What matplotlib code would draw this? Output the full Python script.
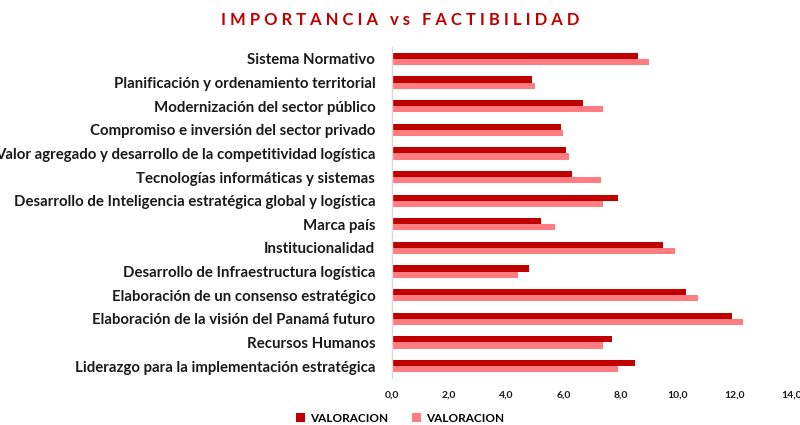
import numpy as np
import matplotlib
matplotlib.use("Agg")
import matplotlib.pyplot as plt

plt.rcParams["font.family"] = ["Lato", "DejaVu Sans"]

# Datos
categorias = [
    "Sistema Normativo",
    "Planificación y ordenamiento territorial",
    "Modernización del sector público",
    "Compromiso e inversión del sector privado",
    "Valor agregado y desarrollo de la competitividad logística",
    "Tecnologías informáticas y sistemas",
    "Desarrollo de Inteligencia estratégica global y logística",
    "Marca país",
    "Institucionalidad",
    "Desarrollo de Infraestructura logística",
    "Elaboración de un consenso estratégico",
    "Elaboración de la visión del Panamá futuro",
    "Recursos Humanos",
    "Liderazgo para la implementación estratégica",
]
importancia = [8.6, 4.9, 6.7, 5.9, 6.1, 6.3, 7.9, 5.2, 9.5, 4.8, 10.3, 11.9, 7.7, 8.5]
factibilidad = [9.0, 5.0, 7.4, 6.0, 6.2, 7.3, 7.4, 5.7, 9.9, 4.4, 10.7, 12.3, 7.4, 7.9]
ticks_x = [0, 2, 4, 6, 8, 10, 12, 14]

rojo = "#C00000"
rosa = "#FF7C80"

fig = plt.figure(figsize=(8, 4.25), dpi=100)
ax = fig.add_axes([0.49, 0.111, 0.50, 0.778])

y = np.arange(len(categorias))
h = 0.26
ax.barh(y - h / 2, importancia, height=h, color=rojo, label="VALORACION")
ax.barh(y + h / 2, factibilidad, height=h, color=rosa, label="VALORACION")

ax.set_ylim(len(categorias) - 0.5, -0.5)
ax.set_xlim(0, 14)
ax.set_yticks(y)
ax.set_yticklabels(categorias, fontsize=10.8, fontweight="bold", color="#1a1a1a")
ax.set_xticks(ticks_x)
ax.set_xticklabels([f"{t:.1f}".replace(".", ",") for t in ticks_x],
                   fontsize=7.5, fontweight="bold", color="#1a1a1a")
ax.tick_params(axis="both", length=0)
ax.tick_params(axis="x", pad=9)
ax.tick_params(axis="y", pad=12)

for s in ["top", "right", "bottom"]:
    ax.spines[s].set_visible(False)
ax.spines["left"].set_color("#d9d9d9")
ax.spines["left"].set_linewidth(1)

fig.text(0.5, 0.952, "I M P O R T A N C I A   v s   F A C T I B I L I D A D",
         ha="center", va="center", fontsize=12, fontweight="bold", color=rojo)

leg = fig.legend(loc="center", bbox_to_anchor=(0.5, 0.016), ncol=2, frameon=False,
                 prop={"size": 8.5, "weight": "bold"}, handlelength=0.8, handleheight=0.8,
                 columnspacing=2.0, handletextpad=0.4)

fig.savefig("out.png", dpi=100)
